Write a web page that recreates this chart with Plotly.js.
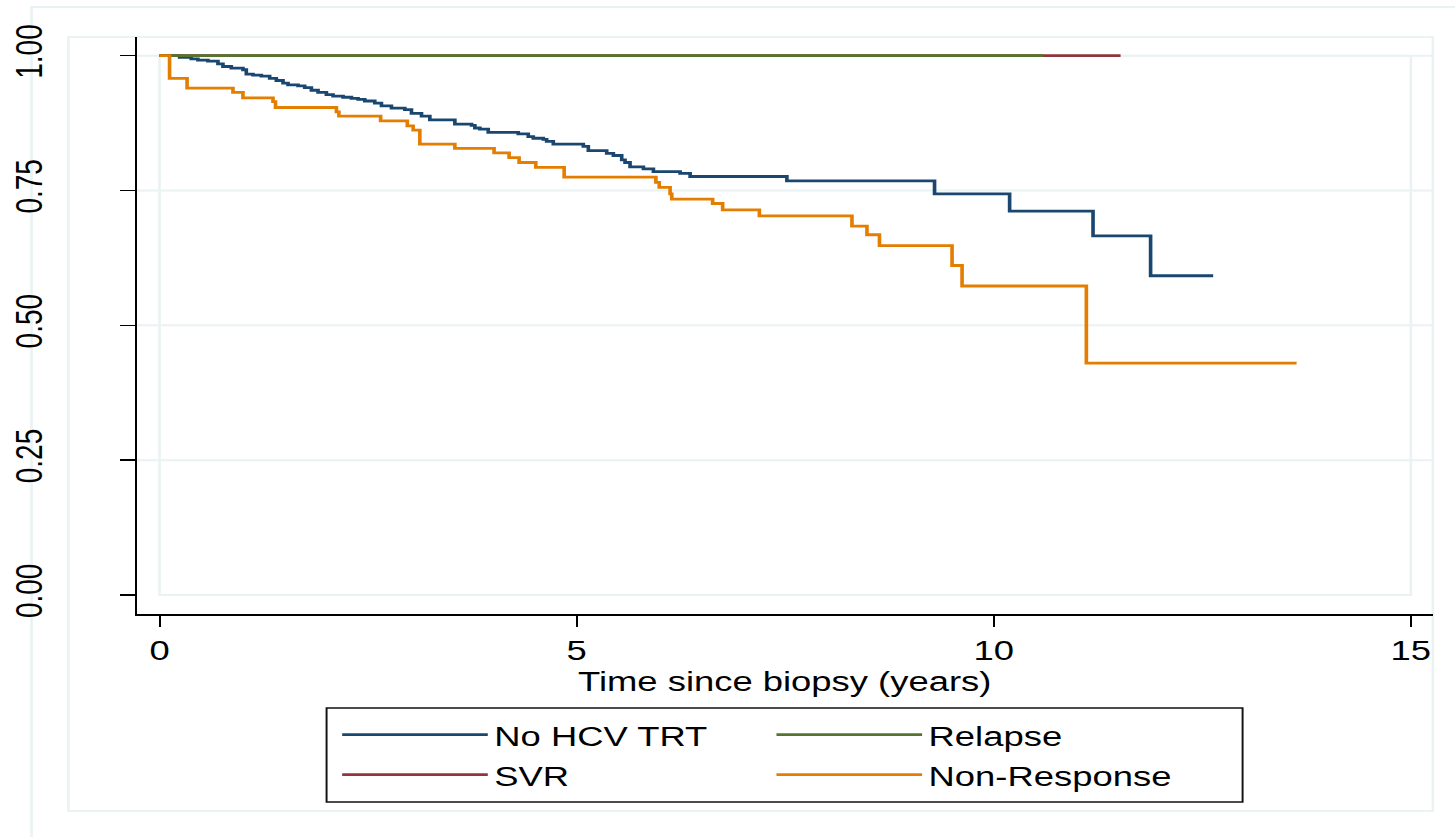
<!DOCTYPE html>
<html><head><meta charset="utf-8">
<script src="https://cdn.plot.ly/plotly-3.0.1.min.js"></script>
<style>
html,body{margin:0;padding:0;background:#fff;overflow:hidden}
#wrap{width:1455px;height:837px;overflow:hidden;position:relative}
#chart{width:1119px;height:837px;transform:scaleX(1.30027);transform-origin:0 0}
</style></head><body><div id="wrap"><div id="chart"></div></div>
<script>
// Kaplan-Meier step data (time in years, survival probability)
const timeNoTrt = [0, 0.24, 0.38, 0.46, 0.58, 0.70, 0.76, 0.86, 1.00, 1.04, 1.12, 1.22, 1.32, 1.40, 1.48, 1.54, 1.66, 1.74, 1.82, 1.90, 2.00, 2.08, 2.20, 2.30, 2.38, 2.46, 2.58, 2.66, 2.78, 2.94, 3.02, 3.14, 3.24, 3.54, 3.74, 3.78, 3.84, 3.94, 4.30, 4.42, 4.48, 4.60, 4.64, 4.72, 5.08, 5.14, 5.36, 5.44, 5.54, 5.58, 5.64, 5.80, 5.92, 6.24, 6.36, 7.52, 9.29, 10.19, 11.19, 11.88, 12.63];
const survNoTrt = [1.000, 0.997, 0.994, 0.992, 0.990, 0.985, 0.980, 0.977, 0.974, 0.966, 0.964, 0.962, 0.958, 0.954, 0.949, 0.946, 0.944, 0.941, 0.936, 0.932, 0.928, 0.925, 0.923, 0.921, 0.919, 0.916, 0.912, 0.907, 0.903, 0.900, 0.893, 0.888, 0.881, 0.873, 0.871, 0.866, 0.864, 0.858, 0.855, 0.850, 0.847, 0.845, 0.841, 0.836, 0.832, 0.824, 0.819, 0.815, 0.807, 0.802, 0.794, 0.790, 0.785, 0.782, 0.776, 0.768, 0.744, 0.712, 0.666, 0.592, 0.592];
const timeSVR = [0, 11.52];
const survSVR = [1.0, 1.0];
const timeRelapse = [0, 10.59];
const survRelapse = [1.0, 1.0];
const timeNonResp = [0, 0.12, 0.33, 0.88, 1.00, 1.36, 1.39, 2.12, 2.15, 2.65, 2.97, 3.04, 3.12, 3.54, 4.01, 4.19, 4.31, 4.51, 4.85, 5.95, 5.99, 6.12, 6.14, 6.63, 6.75, 7.19, 8.30, 8.48, 8.63, 9.50, 9.62, 11.11, 13.63];
const survNonResp = [1.000, 0.958, 0.940, 0.932, 0.922, 0.915, 0.904, 0.896, 0.888, 0.879, 0.870, 0.862, 0.836, 0.828, 0.820, 0.811, 0.802, 0.793, 0.775, 0.765, 0.756, 0.744, 0.734, 0.726, 0.714, 0.703, 0.684, 0.668, 0.648, 0.611, 0.573, 0.430, 0.430];

const seriesNames = ['No HCV TRT', 'SVR', 'Relapse', 'Non-Response'];
const xTickVals = [0, 5, 10, 15];
const xTickText = ['0', '5', '10', '15'];
const yTickVals = [0, 0.25, 0.5, 0.75, 1];
const yTickText = ['0.00', '0.25', '0.50', '0.75', '1.00'];
const xTitle = 'Time since biopsy (years)';

const colors = {'No HCV TRT':'#1a476f','SVR':'#90353b','Relapse':'#55752f','Non-Response':'#e37e00'};
const ranks = {'No HCV TRT':1,'Relapse':2,'SVR':3,'Non-Response':4};
const legendRow = {'No HCV TRT':'legend','Relapse':'legend','SVR':'legend2','Non-Response':'legend2'};
const xs = [timeNoTrt, timeSVR, timeRelapse, timeNonResp];
const ys = [survNoTrt, survSVR, survRelapse, survNonResp];

const FONT = 'Liberation Sans, Arial, Helvetica, sans-serif';
const LIGHT = '#eaf2f3';

const traces = seriesNames.map((n, i) => ({
  type: 'scatter', mode: 'lines', name: n, x: xs[i], y: ys[i],
  line: {color: colors[n], width: 2.8, shape: 'hv'},
  legend: legendRow[n], legendrank: ranks[n], hoverinfo: 'skip'
}));

const shapes = [
  {type:'rect', xref:'paper', yref:'paper', x0:-0.081, x1:1.2, y0:-0.6, y1:1.052, line:{color:LIGHT, width:2}, layer:'below'},
  {type:'rect', xref:'paper', yref:'paper', x0:-0.0525, x1:1.0, y0:-0.3414, y1:1.0, line:{color:LIGHT, width:2}, layer:'below'},
  {type:'rect', xref:'x', yref:'y', x0:xTickVals[0], x1:xTickVals[xTickVals.length-1], y0:yTickVals[0], y1:yTickVals[yTickVals.length-1], line:{color:LIGHT, width:2}, layer:'below'},
  {type:'rect', xref:'paper', yref:'paper', x0:0.1466, x1:0.8532, y0:-0.3258, y1:-0.1629, line:{color:'#111', width:1.5}}
];
yTickVals.filter(v => v > 0).forEach(v => shapes.push({type:'line', xref:'paper', yref:'y', x0:0, x1:1, y0:v, y1:v, line:{color:LIGHT, width:2}, layer:'below'}));

const legendBase = {
  orientation: 'h', xref: 'container', yref: 'container',
  x: 0.2307, xanchor: 'left', yanchor: 'top',
  bgcolor: 'rgba(0,0,0,0)', borderwidth: 0,
  font: {size: 28, family: FONT}, itemwidth: 112,
  entrywidth: 207, entrywidthmode: 'pixels', traceorder: 'normal'
};

const layout = {
  width: 1119, height: 837,
  margin: {l:105, r:17, t:37, b:223, pad:0},
  paper_bgcolor: '#ffffff', plot_bgcolor: 'rgba(0,0,0,0)',
  font: {family: FONT, color: '#000', size: 28},
  showlegend: true,
  xaxis: {
    range: [-0.276, 15.264], tickvals: xTickVals, ticktext: xTickText,
    showgrid: false, zeroline: false, showline: true, linecolor: '#000', linewidth: 1.5,
    ticks: 'outside', ticklen: 11, tickwidth: 1.5, tickcolor: '#000',
    tickfont: {size: 28, family: FONT},
    title: {text: xTitle, font: {size: 28, family: FONT}, standoff: 0}
  },
  yaxis: {
    range: [-0.0352, 1.0347], tickvals: yTickVals, ticktext: yTickText,
    showgrid: false, zeroline: false, showline: true, linecolor: '#000', linewidth: 1.5,
    ticks: 'outside', ticklen: 11, tickwidth: 1.5, tickcolor: '#000',
    tickangle: -90, ticklabelstandoff: 49,
    tickfont: {size: 28, family: FONT}
  },
  legend: Object.assign({}, legendBase, {y: 0.1518}),
  legend2: Object.assign({}, legendBase, {y: 0.1040}),
  shapes: shapes
};

Plotly.newPlot('chart', traces, layout, {displayModeBar: false, staticPlot: true});
</script></body></html>
